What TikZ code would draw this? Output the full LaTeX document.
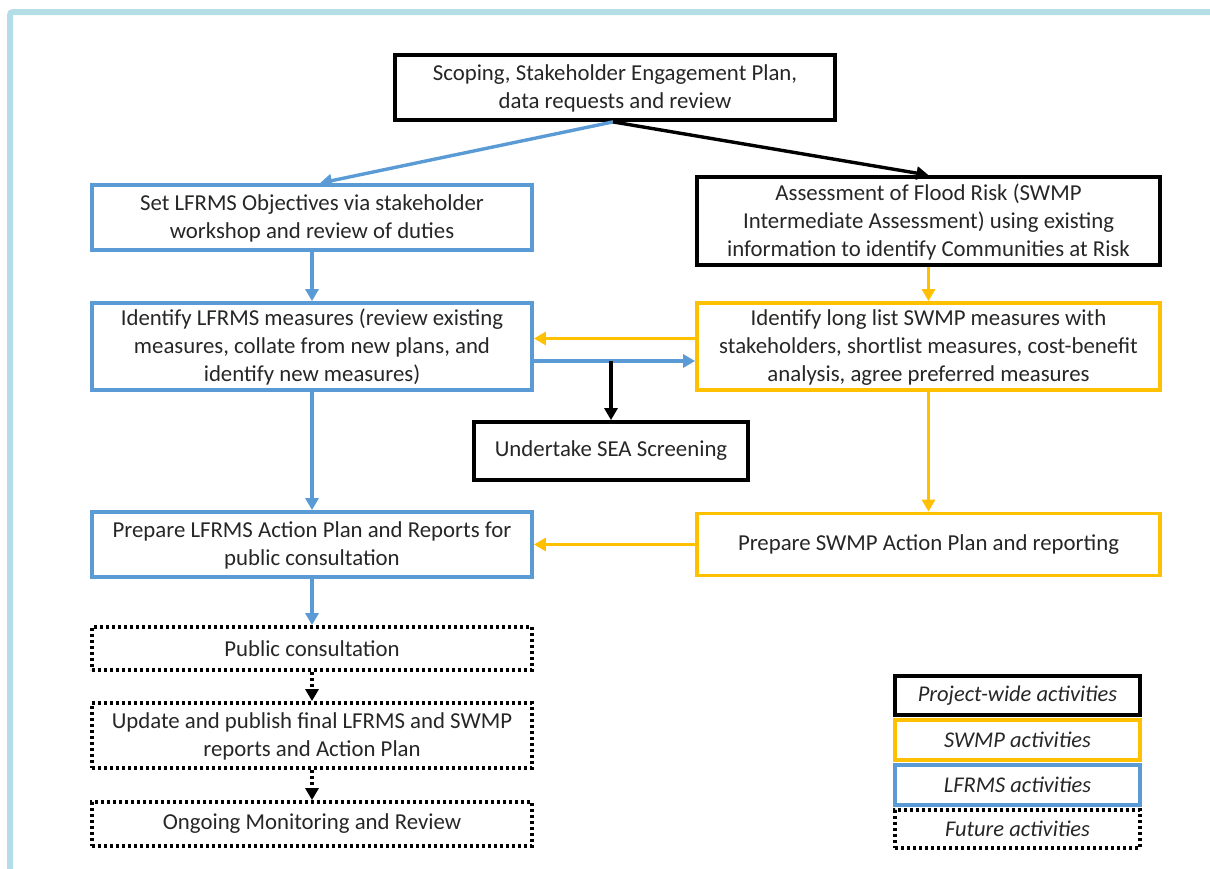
\documentclass[tikz,border=0pt]{standalone}
\usepackage{fontspec}
\setmainfont{Carlito}
\usetikzlibrary{arrows.meta,calc}
\definecolor{lblue}{HTML}{5B9BD5}
\definecolor{lyell}{HTML}{FFC000}
\definecolor{frame}{HTML}{B4DDE6}
\definecolor{txt}{HTML}{262626}
\tikzset{
  box/.style={draw, rectangle, line width=3.8pt, align=center, inner sep=0pt,
    text=txt, font=\fontsize{22.8}{28}\selectfont},
  pbox/.style={box, draw=black},
  ybox/.style={box, draw=lyell},
  bbox/.style={box, draw=lblue},
  fbox/.style={box, draw=black, line width=3.8pt, dash pattern=on 3pt off 3pt},
  legend/.style={font=\fontsize{22.5}{26}\selectfont\itshape, minimum width=245pt},
  arr/.style={line width=3.4pt, -{Triangle[length=12pt,width=13pt]}},
  barr/.style={arr, draw=lblue, fill=lblue},
  yarr/.style={arr, draw=lyell, fill=lyell},
  karr/.style={arr, draw=black},
  farr/.style={arr, draw=black, dash pattern=on 3pt off 3pt}
}
\begin{document}
\begin{tikzpicture}[x=1pt,y=-1pt]
\useasboundingbox (0,0) rectangle (1210,868);
\draw[frame, line width=6pt, rounded corners=3pt] (10,872) -- (10,12) -- (1215,12);

\node[pbox, minimum width=440pt, minimum height=65pt] (scope) at (615,87.5)
  {\rule{0pt}{18pt}Scoping, Stakeholder Engagement Plan,\\data requests and review};
\node[bbox, minimum width=440pt, minimum height=65pt] (setobj) at (312,217.5)
  {\rule{0pt}{18pt}Set LFRMS Objectives via stakeholder\\workshop and review of duties};
\node[pbox, minimum width=463pt, minimum height=88pt] (assess) at (928.5,221)
  {\rule{0pt}{18pt}Assessment of Flood Risk (SWMP\\Intermediate Assessment) using existing\\information to identify Communities at Risk};
\node[bbox, minimum width=440pt, minimum height=87pt] (idl) at (312,346.5)
  {\rule{0pt}{18pt}Identify LFRMS measures (review existing\\measures, collate from new plans, and\\identify new measures)};
\node[ybox, minimum width=463pt, minimum height=87pt] (ids) at (928.5,346.5)
  {\rule{0pt}{18pt}Identify long list SWMP measures with\\stakeholders, shortlist measures, cost-benefit\\analysis, agree preferred measures};
\node[pbox, minimum width=274pt, minimum height=58pt] (sea) at (611,451)
  {Undertake SEA Screening};
\node[bbox, minimum width=440pt, minimum height=65pt] (prepl) at (312,544.5)
  {\rule{0pt}{18pt}Prepare LFRMS Action Plan and Reports for\\public consultation};
\node[ybox, minimum width=463pt, minimum height=62pt] (preps) at (928.5,544.5)
  {Prepare SWMP Action Plan and reporting};
\node[fbox, minimum width=440pt, minimum height=43pt] (pub) at (312,648.5)
  {Public consultation};
\node[fbox, minimum width=440pt, minimum height=65pt] (upd) at (312,735.5)
  {\rule{0pt}{18pt}Update and publish final LFRMS and SWMP\\reports and Action Plan};
\node[fbox, minimum width=440pt, minimum height=44pt] (ong) at (312,824)
  {Ongoing Monitoring and Review};

\node[pbox, legend, minimum height=39pt] (lg1) at (1017.5,695.5) {Project-wide activities};
\node[ybox, legend, minimum height=40pt] (lg2) at (1017.5,740) {SWMP activities};
\node[bbox, legend, minimum height=40pt] (lg3) at (1017.5,785) {LFRMS activities};
\node[fbox, legend, minimum height=38pt] (lg4) at (1017.5,829) {Future activities};

\draw[barr] ([xshift=-2pt]scope.south) -- ([xshift=8pt]setobj.north);
\draw[karr] ([xshift=-2pt]scope.south) -- (assess.north);
\draw[barr] (setobj.south) -- (idl.north);
\draw[yarr] (assess.south) -- (ids.north);
\draw[yarr] ([yshift=8pt]ids.west) -- ([yshift=8pt]idl.east);
\draw[barr] ([yshift=-14.5pt]idl.east) coordinate (bl) -- (bl -| ids.west);
\draw[karr] (bl -| sea.north) -- (sea.north);
\draw[barr] (idl.south) -- (prepl.north);
\draw[yarr] (ids.south) -- (preps.north);
\draw[yarr] (preps.west) -- (prepl.east);
\draw[barr] (prepl.south) -- (pub.north);
\draw[farr] (pub.south) -- (upd.north);
\draw[farr] (upd.south) -- (ong.north);
\end{tikzpicture}
\end{document}
